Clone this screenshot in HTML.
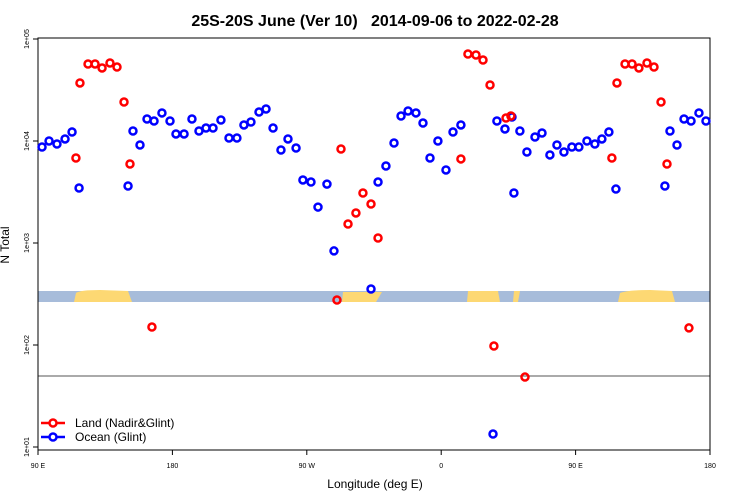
<!DOCTYPE html>
<html><head><meta charset="utf-8"><style>
body{margin:0;background:#fff;}
svg{display:block;font-family:"Liberation Sans",sans-serif;}
</style></head><body>
<svg id="chart" width="750" height="500" viewBox="0 0 750 500">
<text x="375" y="26" text-anchor="middle" font-size="16" font-weight="bold" style="white-space:pre">25S-20S June (Ver 10)   2014-09-06 to 2022-02-28</text>
<text x="375" y="488" text-anchor="middle" font-size="12">Longitude (deg E)</text>
<text x="0" y="0" transform="translate(9,245) rotate(-90)" text-anchor="middle" font-size="12">N Total</text>
<g id="strip">
<rect x="38" y="291" width="672" height="11" fill="#a7bcda"/>
<path d="M74 302 L76 293 Q80 290 100 290 L128 291 L132 302Z" fill="#fdd873"/>
<path d="M342 302 L343 292 L382 292 L376 302Z" fill="#fdd873"/>
<path d="M467 302 L468 291 L498 291 L500 302Z" fill="#fdd873"/>
<path d="M513 302 L514 291 L520 291 L518 302Z" fill="#fdd873"/>
<path d="M618 302 L620 293 Q628 290 650 290 L672 291 L675 302Z" fill="#fdd873"/>
</g>
<line x1="38" y1="376" x2="710" y2="376" stroke="#555" stroke-width="1"/>
<rect x="38" y="38" width="672" height="412" fill="none" stroke="#000" stroke-width="1"/>
<g id="axes"></g>
<g id="marks"></g>
<g>
<g>
<line x1="41" y1="423" x2="65" y2="423" stroke="#f00" stroke-width="2.5"/>
<circle cx="53" cy="423" r="3.5" fill="#fff" stroke="#f00" stroke-width="2.5"/>
<text x="75" y="427" font-size="12">Land (Nadir&amp;Glint)</text></g>
<g>
<line x1="41" y1="437" x2="65" y2="437" stroke="#00f" stroke-width="2.5"/>
<circle cx="53" cy="437" r="3.5" fill="#fff" stroke="#00f" stroke-width="2.5"/>
<text x="75" y="441" font-size="12">Ocean (Glint)</text></g>
</g>
</svg>
<script>
const xTicks=[90,180,270,360,450,540];
const xTickLabels=["90 E","180","90 W","0","90 E","180"];
const yTicks=[10,100,1000,10000,100000];
const yTickLabels=["1e+01","1e+02","1e+03","1e+04","1e+05"];
const oceanLon=[92.7,97.4,102.7,108.1,112.8,117.5,150.3,153.6,158.3,163,167.7,173,178.4,182.4,187.8,193.1,197.8,202.5,207.2,212.5,217.9,223.2,227.9,232.6,238,242.7,247.4,252.7,257.4,262.8,267.4,272.8,277.5,283.5,288.2,313,317.7,323,328.4,333.1,337.8,343.1,347.8,352.5,357.8,363.2,367.9,373.2,394.7,397.3,402.7,407.4,408.7,412.7,417.4,422.8,427.5,432.8,437.5,442.2,447.5,452.2,457.6,462.9,467.6,472.3,477,509.8,513.2,517.9,522.6,527.3,532.6,537.3];
const oceanN=[8730,10000,9350,10470,12250,3460,3620,12530,9140,16440,15700,18840,15700,11720,11720,16440,12530,13400,13400,16070,10700,10700,14360,15350,19230,20600,13400,8160,10470,8530,4150,3960,2250,3780,836,354,3960,5690,9550,17580,19680,18840,15000,6810,10000,5200,12250,14360,13.4,15700,13120,17180,3090,12530,7800,10940,11980,7300,9140,7800,8730,8730,10000,9350,10470,12250,3380,3620,12530,9140,16440,15700,18840,15700];
const landLon=[115.4,118.1,123.5,128.2,132.9,138.2,142.9,147.6,151.6,166.3,290.2,292.9,297.6,302.9,307.6,313,317.7,373.2,377.9,383.3,388,392.7,395.3,403.4,406.7,416.1,474.3,477.7,483.1,487.8,492.4,497.8,502.5,507.2,511.2,525.9];
const landN=[6810,37070,56900,56900,52000,58200,53100,24100,5950,150,276,8350,1535,1970,3090,2410,1120,6670,71300,69700,62200,35400,97.7,16800,17580,48.5,6810,37070,56900,56900,52000,58200,53100,24100,5950,147];

const NS="http://www.w3.org/2000/svg";
function xs(lon){return 38+(lon-90)*672/450;}
function ys(v){return 39+(5-Math.log10(v))*102;}
const axes=document.getElementById('axes');
const marks=document.getElementById('marks');
function mk(tag,attrs,parent){const e=document.createElementNS(NS,tag);for(const k in attrs)e.setAttribute(k,attrs[k]);parent.appendChild(e);return e;}
xTicks.forEach((t,i)=>{
  const x=xs(t);
  const l=mk('line',{x1:x,y1:450,x2:x,y2:455,stroke:'#000'},axes);
  
  
  const tx=mk('text',{x:x,y:468,'font-size':7,'text-anchor':'middle'},axes);
  tx.textContent=xTickLabels[i];
  
  
});
yTicks.forEach((t,i)=>{
  const y=ys(t);
  const l=mk('line',{x1:33,y1:y,x2:38,y2:y,stroke:'#000'},axes);
  
  
  const tx=mk('text',{x:0,y:0,transform:`translate(29,${y}) rotate(-90)`,'font-size':7,'text-anchor':'middle'},axes);
  tx.textContent=yTickLabels[i];
  
  
});
oceanLon.forEach((lon,i)=>{
  const c=mk('circle',{cx:xs(lon),cy:ys(oceanN[i]),r:3.5,fill:'none',stroke:'#00f','stroke-width':2.5},marks);
  
  
});
landLon.forEach((lon,i)=>{
  const c=mk('circle',{cx:xs(lon),cy:ys(landN[i]),r:3.5,fill:'none',stroke:'#f00','stroke-width':2.5},marks);
  
  
});
</script>
</body></html>
